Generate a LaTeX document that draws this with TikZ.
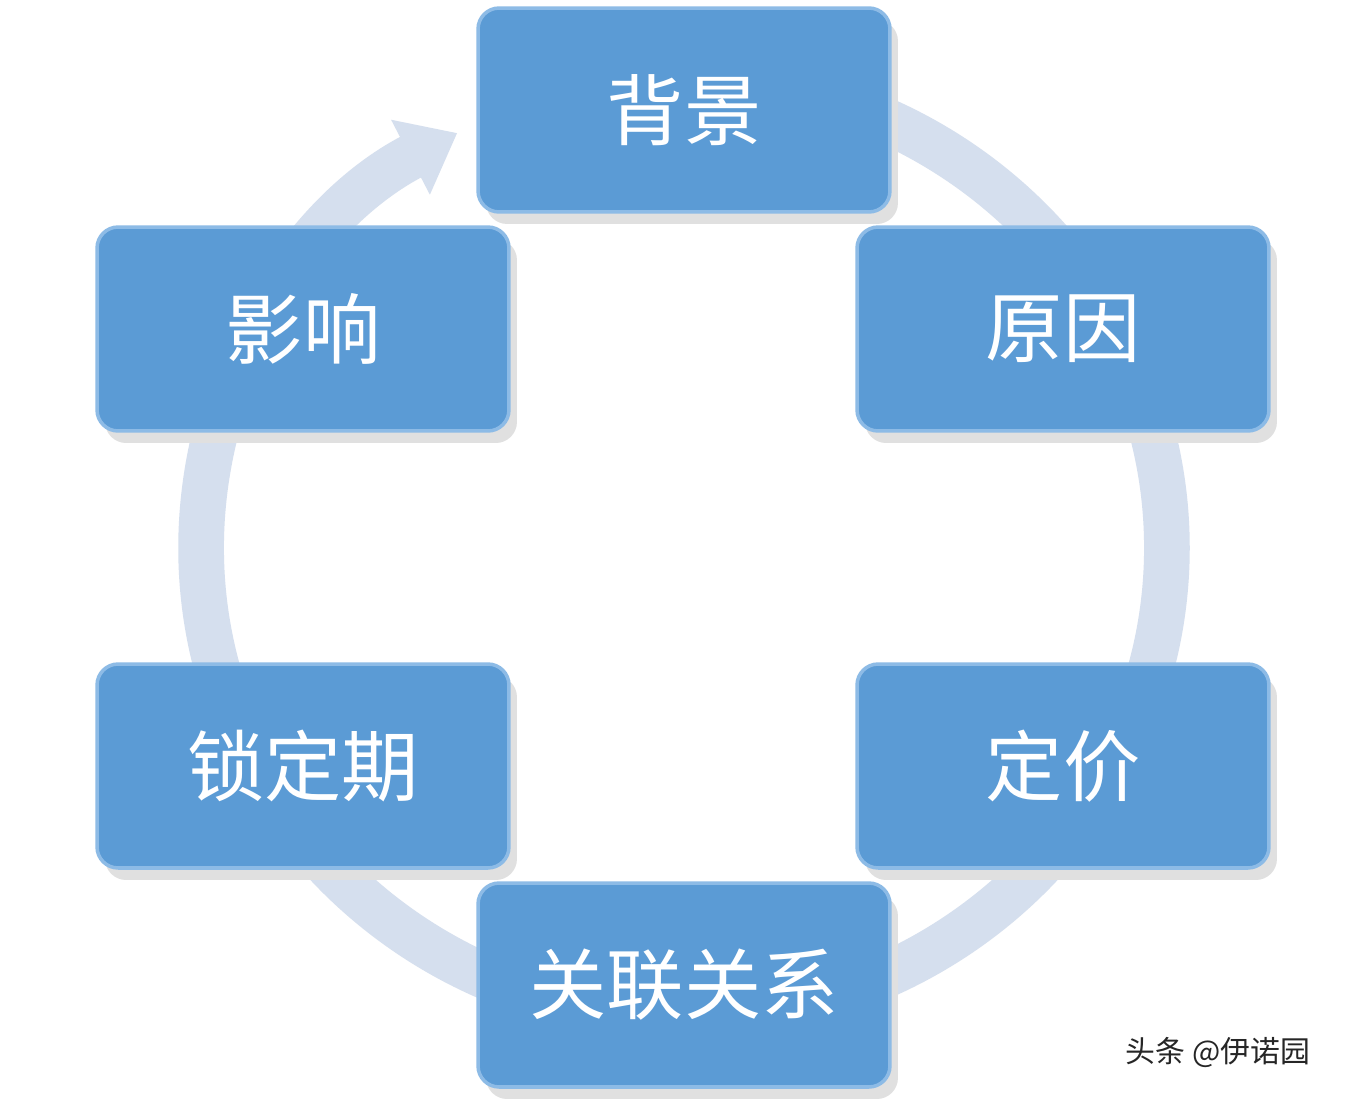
\documentclass[tikz,border=0pt]{standalone}
\usepackage{fontspec}
\newfontfamily\cjk{Noto Sans CJK SC}
\usetikzlibrary{arrows.meta}
\definecolor{boxblue}{HTML}{5B9BD5}
\definecolor{boxedge}{HTML}{8DBBE6}
\definecolor{ring}{HTML}{D5DFEE}
\tikzset{
 box/.style={draw=boxedge,line width=2pt,fill=boxblue,rounded corners=12pt,minimum width=8.24cm,minimum height=4.08cm,text=white,font=\cjk\fontsize{44}{50}\selectfont},
 shad/.style={fill=black!12,rounded corners=12pt,minimum width=8.24cm,minimum height=4.08cm}
}
\begin{document}
\begin{tikzpicture}[x=0.02cm,y=-0.02cm]
\useasboundingbox (0,0) rectangle (1356,1100);
\fill[white] (0,0) rectangle (1356,1100);
\coordinate (top) at (684,78);
\draw[ring,line width=26pt,-{Triangle[length=30pt,width=46pt]}] (top) arc[start angle=90,end angle=-242,x radius=9.66cm,y radius=9.40cm];
\foreach \n/\x/\y/\t in {a/684/110/背景,b/1063/329/原因,c2/1063/766/定价,d/684/985/关联关系,e/303/766/锁定期,f/303/329/影响}{
 \node[shad] at (\x+8,\y+12) {};
 \node[box] (\n) at (\x,\y) {\t};
}
\node[font=\cjk\fontsize{17}{20}\selectfont,text=black!85] (wm) at (1218,1052) {头条 @伊诺园};
\end{tikzpicture}
\end{document}
